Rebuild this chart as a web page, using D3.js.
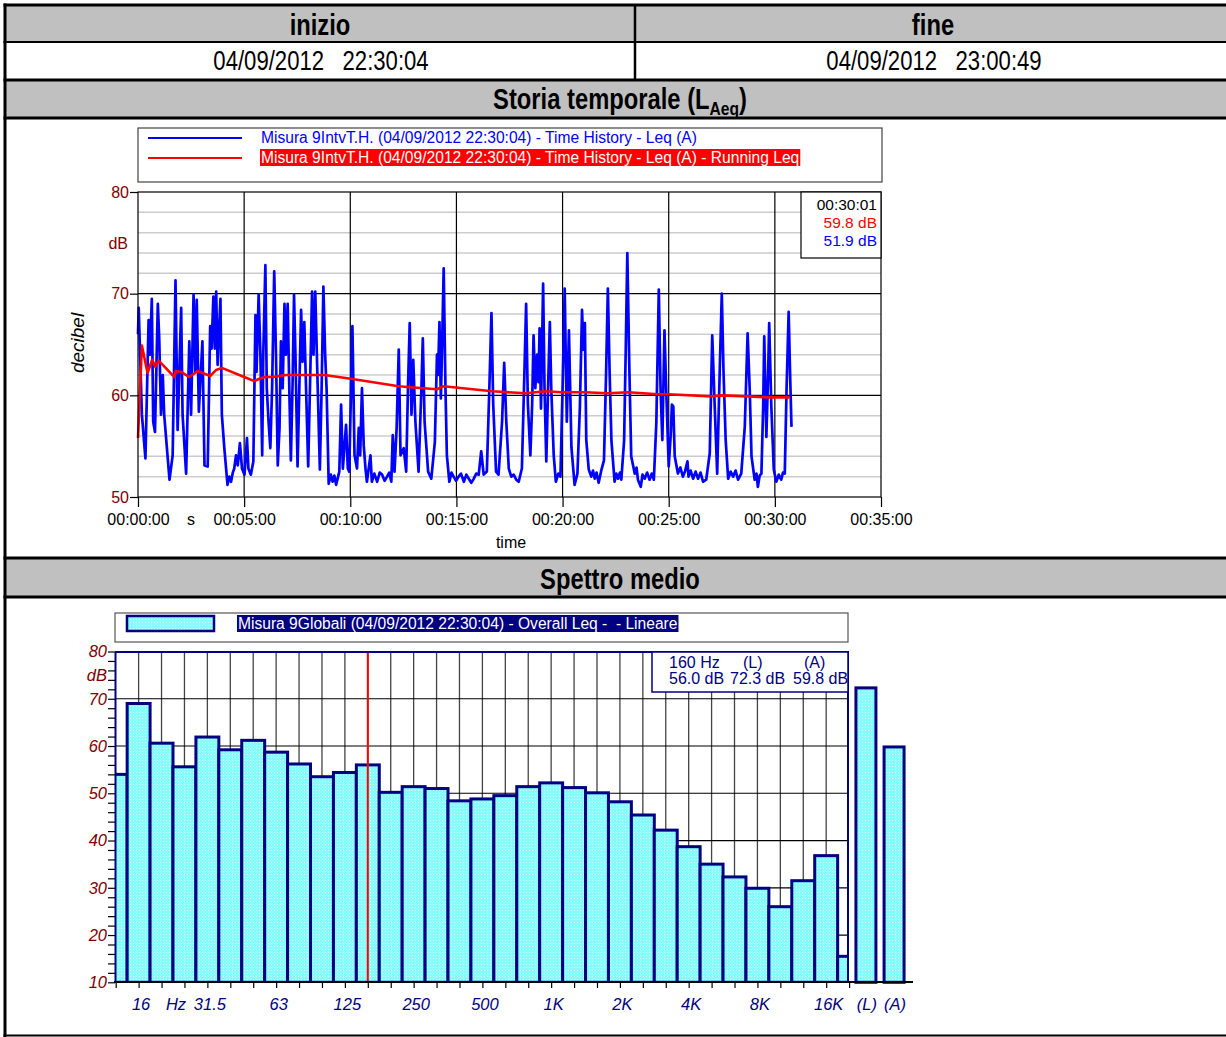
<!DOCTYPE html>
<html>
<head>
<meta charset="utf-8">
<script src="https://cdn.jsdelivr.net/npm/d3@7/dist/d3.min.js"></script>
<style>
html,body{margin:0;padding:0;background:#fff;}
svg{display:block;}
text{font-family:"Liberation Sans",Arial,Helvetica,sans-serif;white-space:pre;}
</style>
</head>
<body>
<svg id="chart" width="1226" height="1037"></svg>
<script>
// ---------------- DATA ----------------
const headerTitles = ["inizio", "fine"];
const headerDates = ["04/09/2012   22:30:04", "04/09/2012   23:00:49"];
const sectionTitle1 = ["Storia temporale (L", "Aeq", ")"];
const sectionTitle2 = "Spettro medio";

const timeTickSeconds = [0, 300, 600, 900, 1200, 1500, 1800, 2100];
const timeTickLabels = ["00:00:00","00:05:00","00:10:00","00:15:00","00:20:00","00:25:00","00:30:00","00:35:00"];
const dbTicks = [50, 60, 70, 80];

const legendTH = [
  "Misura 9IntvT.H. (04/09/2012 22:30:04) - Time History - Leq (A)",
  "Misura 9IntvT.H. (04/09/2012 22:30:04) - Time History - Leq (A) - Running Leq"
];
const cursorTH = ["00:30:01", "59.8 dB", "51.9 dB"];

// [seconds, dB] - Leq(A) time history
const leqHistory = [
[0,66.0],[2,68.6],[11,58.1],[21,53.8],[30,67.4],[34,64.0],[39,69.5],[43,57.4],[48,56.4],[56,69.0],[60,65.6],[65,58.1],[70,62.0],[74,58.1],[89,51.7],[98,54.1],[106,71.3],[112,56.6],[122,68.6],[126,58.1],[136,52.3],[145,65.3],[150,58.1],[157,69.9],[162,62.3],[166,69.4],[172,58.4],[182,65.3],[188,53.1],[197,53.0],[204,66.8],[208,64.6],[213,69.7],[217,64.6],[221,70.2],[225,63.0],[233,69.5],[237,58.1],[244,54.8],[253,51.2],[258,52.0],[263,51.5],[268,52.4],[272,52.8],[277,54.1],[282,53.1],[288,55.3],[294,52.8],[301,52.2],[308,55.8],[312,52.8],[319,52.2],[326,53.5],[332,67.9],[335,62.3],[341,69.9],[346,64.0],[351,54.1],[354,64.0],[360,72.8],[364,60.7],[369,57.4],[374,54.8],[379,60.7],[385,72.2],[390,64.0],[395,53.1],[400,56.8],[404,65.3],[409,60.7],[414,69.0],[418,64.0],[423,69.0],[428,60.0],[432,53.6],[437,61.3],[441,69.9],[445,64.0],[451,53.0],[456,60.7],[461,68.4],[465,63.3],[470,67.2],[475,60.7],[481,53.0],[486,60.7],[492,70.2],[496,64.0],[501,70.2],[508,60.7],[514,52.7],[519,60.7],[524,70.7],[529,64.0],[533,60.7],[539,51.3],[545,52.2],[550,51.5],[555,52.1],[560,51.2],[569,52.5],[574,59.1],[579,52.8],[588,57.1],[593,52.8],[597,52.5],[606,66.8],
[612,54.1],[619,52.8],[624,56.8],[628,54.1],[633,60.7],[638,55.1],[643,52.8],[647,51.5],[657,54.1],[661,51.5],[668,52.3],[676,51.5],[683,52.4],[690,52.2],[697,51.6],[704,52.0],[710,52.4],[716,51.5],[720,56.1],[725,52.5],[731,56.8],[737,64.5],[742,54.1],[751,54.8],[758,52.5],[763,60.7],[768,67.1],[773,58.1],[778,63.5],[784,57.4],[793,52.5],[801,60.7],[805,65.6],[810,57.4],[820,52.5],[829,51.8],[839,55.4],[845,64.0],[848,62.0],[852,67.2],[856,59.7],[859,64.0],[864,72.5],[869,60.7],[873,54.1],[880,51.5],[886,52.4],[892,52.0],[899,51.6],[906,52.0],[913,52.3],[921,51.5],[928,52.2],[935,51.8],[942,51.4],[949,51.8],[956,52.3],[963,52.2],[970,54.5],[977,52.2],[986,52.5],[993,60.7],[999,68.1],[1004,59.1],[1012,52.5],[1019,52.2],[1029,57.4],[1035,63.2],[1041,57.4],[1048,52.8],[1055,52.0],[1062,52.2],[1069,51.7],[1076,51.5],[1085,52.8],[1091,60.7],[1097,69.0],[1102,59.1],[1109,54.1],[1114,59.1],[1118,65.9],[1123,60.7],[1128,64.0],[1132,61.3],[1135,66.6],[1139,58.7],[1145,71.0],[1149,60.7],[1154,53.5],[1159,60.7],[1164,67.2],[1168,60.7],[1175,54.1],[1181,51.5],[1188,52.3],[1194,52.0],[1200,60.7],[1206,70.5],[1212,57.4],[1218,66.4],
[1225,54.9],[1234,51.2],[1242,52.3],[1249,58.9],[1255,68.4],[1259,64.5],[1263,67.1],[1267,55.6],[1274,52.7],[1281,52.0],[1286,52.6],[1291,51.8],[1296,52.4],[1302,51.4],[1310,52.7],[1317,53.6],[1323,62.2],[1328,70.5],[1333,62.2],[1338,55.6],[1347,51.5],[1352,52.3],[1357,51.8],[1362,52.4],[1366,51.7],[1374,55.6],[1379,65.4],[1383,74.0],[1389,62.2],[1394,54.0],[1404,52.3],[1409,52.9],[1413,51.7],[1421,51.0],[1426,52.2],[1432,51.8],[1439,52.4],[1446,51.7],[1452,52.3],[1458,51.7],[1465,57.3],[1472,70.4],[1477,60.5],[1482,55.6],[1488,66.4],[1493,60.5],[1500,53.0],[1506,56.3],[1509,59.1],[1513,58.9],[1517,54.0],[1526,52.3],[1533,52.9],[1540,52.0],[1546,52.5],[1553,53.5],[1556,52.0],[1562,52.6],[1569,51.8],[1576,52.5],[1583,51.8],[1590,52.4],[1597,51.5],[1606,51.7],[1616,54.3],[1623,65.9],[1630,58.9],[1637,52.3],[1644,62.2],[1650,70.0],[1655,62.2],[1661,55.6],[1668,51.8],[1675,52.5],[1682,52.0],[1689,52.6],[1696,51.7],[1705,52.3],[1715,56.9],[1723,66.1],[1729,60.5],[1734,54.0],[1743,51.7],[1748,52.3],[1752,51.0],[1757,52.1],[1762,52.3],[1767,58.9],[1770,65.8],[1776,55.9],[1781,62.2],[1784,67.1],[1790,58.9],[1797,52.7],[1804,51.5],[1811,52.2],[1818,51.7],[1823,52.4],[1828,52.3],[1833,60.5],[1839,68.2],[1843,62.2],[1847,56.9]
];

// [seconds, dB] - running Leq
const runningLeq = [
[0,55.8],[11,64.9],[27,62.2],[40,63.5],[49,62.8],[58,63.4],[70,63.0],[103,61.8],[107,62.4],[122,62.3],[145,61.8],[169,62.4],[204,61.9],[221,62.5],[237,62.7],[300,61.8],[329,61.4],[348,61.7],[362,61.8],[381,61.8],[418,62.0],[484,62.0],[527,62.0],[606,61.6],[737,60.9],[770,60.8],[845,60.6],[864,60.9],[1001,60.4],[1095,60.2],[1151,60.4],[1198,60.3],[1263,60.3],[1328,60.2],[1385,60.3],[1470,60.1],[1498,60.1],[1621,59.9],[1649,60.0],[1724,59.9],[1781,59.8],[1842,59.8]
];

// Spectrum (1/3 octave, linear)
const bandLabels = ["12.5","16","20","25","31.5","40","50","63","80","100","125","160","200","250","315","400","500","630","800","1K","1.25K","1.6K","2K","2.5K","3.15K","4K","5K","6.3K","8K","10K","12.5K","16K","20K"];
const bandLevels = [54.0,69.0,60.6,55.6,61.9,59.2,61.2,58.7,56.2,53.5,54.4,56.0,50.2,51.4,51.0,48.4,48.8,49.5,51.4,52.2,51.2,50.1,48.2,45.4,42.2,38.7,35.0,32.3,29.9,26.0,31.5,36.8,15.5];
const bandTickLabels = ["16","31.5","63","125","250","500","1K","2K","4K","8K","16K"];
const overallLabels = ["(L)", "(A)"];
const overallLevels = [72.3, 59.8];
const spectrumLegend = "Misura 9Globali (04/09/2012 22:30:04) - Overall Leq -  - Lineare";
const cursorBand = "160";
const cursorSpecHead = ["160 Hz", "(L)", "(A)"];
const cursorSpecVals = ["56.0 dB", "72.3 dB", "59.8 dB"];

// ---------------- DRAW ----------------
const svg = d3.select("#chart");
const FONT = '"Liberation Sans", Arial, Helvetica, sans-serif';
const NARROW = 0.82;
const NAVY = "#000080", DKRED = "#800000";

function txt(p, x, y, s, o = {}) {
  const sx = o.sx || 1;
  let tr = `translate(${x},${y})`;
  if (o.rotate) tr += ` rotate(${o.rotate})`;
  if (sx !== 1) tr += o.rotate ? ` scale(1,${sx})` : ` scale(${sx},1)`;
  return p.append("text").attr("transform", tr)
    .attr("font-size", o.size || 16)
    .attr("font-weight", o.weight || "normal")
    .attr("font-style", o.italic ? "italic" : "normal")
    .attr("text-anchor", o.anchor || "start")
    .attr("fill", o.fill || "#000")
    .text(s);
}

// defs
const defs = svg.append("defs");
const pat = defs.append("pattern").attr("id", "dots").attr("width", 3).attr("height", 3).attr("patternUnits", "userSpaceOnUse");
pat.append("rect").attr("width", 3).attr("height", 3).attr("fill", "#86fcfc");
pat.append("rect").attr("x", 1).attr("y", 1).attr("width", 1).attr("height", 1).attr("fill", "#d6ffff");
defs.append("clipPath").attr("id", "specClip").append("rect").attr("x", 115).attr("y", 600).attr("width", 733).attr("height", 383);

// ---- header table ----
const W = 1240;
[[5, 42], [80, 118], [558, 597]].forEach(([a, b]) =>
  svg.append("rect").attr("x", 5).attr("y", a).attr("width", W).attr("height", b - a).attr("fill", "#c0c0c0"));

txt(svg, 320, 35, headerTitles[0], {size: 29, weight: "bold", anchor: "middle", sx: NARROW});
txt(svg, 933, 35, headerTitles[1], {size: 29, weight: "bold", anchor: "middle", sx: NARROW});
txt(svg, 321, 70, headerDates[0], {size: 27, anchor: "middle", sx: NARROW});
txt(svg, 934, 70, headerDates[1], {size: 27, anchor: "middle", sx: NARROW});
const st = txt(svg, 620, 109, "", {size: 29, weight: "bold", anchor: "middle", sx: NARROW});
st.append("tspan").text(sectionTitle1[0]);
st.append("tspan").attr("font-size", 19).attr("dy", 6).text(sectionTitle1[1]);
st.append("tspan").attr("dy", -6).text(sectionTitle1[2]);
txt(svg, 620, 589, sectionTitle2, {size: 29, weight: "bold", anchor: "middle", sx: NARROW});

[[5, 3], [42, 2], [80, 3], [118, 3], [558, 3], [597, 3], [1035.5, 2]].forEach(([y, w]) =>
  svg.append("line").attr("x1", 3.5).attr("x2", W).attr("y1", y).attr("y2", y).attr("stroke", "#000").attr("stroke-width", w));
svg.append("line").attr("x1", 5).attr("x2", 5).attr("y1", 3.5).attr("y2", 1037).attr("stroke", "#000").attr("stroke-width", 3);
svg.append("line").attr("x1", 635).attr("x2", 635).attr("y1", 5).attr("y2", 80).attr("stroke", "#000").attr("stroke-width", 2.5);

// ---- time history ----
const xT = d3.scaleLinear().domain([0, 2100]).range([138, 881]);
const yT = d3.scaleLinear().domain([50, 80]).range([497, 192]);
const gT = svg.append("g");

gT.selectAll(".minor").data(d3.range(52, 80, 2).filter(d => d % 10 !== 0)).join("line")
  .attr("x1", 138).attr("x2", 881).attr("y1", d => yT(d)).attr("y2", d => yT(d))
  .attr("stroke", "#cccccc").attr("stroke-width", 1.5);
gT.selectAll(".majorH").data([60, 70]).join("line")
  .attr("x1", 138).attr("x2", 881).attr("y1", d => yT(d)).attr("y2", d => yT(d))
  .attr("stroke", "#000").attr("stroke-width", 1.2);
gT.selectAll(".majorV").data(timeTickSeconds.slice(1, -1)).join("line")
  .attr("x1", d => xT(d)).attr("x2", d => xT(d)).attr("y1", 192).attr("y2", 497)
  .attr("stroke", "#000").attr("stroke-width", 1.2);

const lineT = d3.line().x(d => xT(d[0])).y(d => yT(d[1]));
gT.append("path").datum(leqHistory).attr("d", lineT).attr("fill", "none")
  .attr("stroke", "#0000ff").attr("stroke-width", 2.7).attr("stroke-linejoin", "round");
gT.append("path").datum(runningLeq).attr("d", lineT).attr("fill", "none")
  .attr("stroke", "#ff0000").attr("stroke-width", 2.6).attr("stroke-linejoin", "round");

gT.append("rect").attr("x", 138).attr("y", 192).attr("width", 743).attr("height", 305)
  .attr("fill", "none").attr("stroke", "#000").attr("stroke-width", 1.2);

const axT = gT.append("g").attr("transform", "translate(0,497)")
  .call(d3.axisBottom(xT).tickValues(timeTickSeconds).tickSize(10).tickSizeOuter(0)
    .tickFormat((d, i) => timeTickLabels[i]));
axT.select(".domain").remove();
axT.attr("font-size", 16).attr("font-family", FONT);
axT.selectAll("line").attr("stroke", "#000").attr("stroke-width", 1.2);
axT.selectAll("text").attr("fill", "#000").attr("y", 17).attr("dy", "0.71em");

const ayT = gT.append("g").attr("transform", "translate(138,0)")
  .call(d3.axisLeft(yT).tickValues(dbTicks).tickSize(8).tickSizeOuter(0));
ayT.select(".domain").remove();
ayT.attr("font-size", 16).attr("font-family", FONT);
ayT.selectAll("line").attr("stroke", "#000").attr("stroke-width", 1.2);
ayT.selectAll("text").attr("fill", DKRED).attr("x", -9);

txt(gT, 128, yT(75) + 6, "dB", {size: 16, anchor: "end", fill: DKRED});
txt(gT, 84, 343, "decibel", {size: 19, italic: true, anchor: "middle", rotate: -90});
txt(gT, 191, 525, "s", {size: 16, anchor: "middle"});
txt(gT, 511, 548, "time", {size: 16, anchor: "middle"});

// legend
gT.append("rect").attr("x", 138).attr("y", 128).attr("width", 744).attr("height", 54)
  .attr("fill", "#fff").attr("stroke", "#444").attr("stroke-width", 1.2);
gT.append("line").attr("x1", 148).attr("x2", 242).attr("y1", 138).attr("y2", 138).attr("stroke", "#0000ff").attr("stroke-width", 2);
gT.append("line").attr("x1", 148).attr("x2", 242).attr("y1", 158).attr("y2", 158).attr("stroke", "#ff0000").attr("stroke-width", 2);
txt(gT, 261, 143, legendTH[0], {size: 15.6, fill: "#0000ff"});
const bgR = gT.append("rect").attr("fill", "#ff0000");
const lt2 = txt(gT, 261, 163, legendTH[1], {size: 15.6, fill: "#fff"});
bgR.attr("x", 260).attr("y", 149).attr("height", 17).attr("width", lt2.node().getComputedTextLength() + 2);

// cursor info box
gT.append("rect").attr("x", 801).attr("y", 192).attr("width", 80).attr("height", 66)
  .attr("fill", "#fff").attr("stroke", "#000").attr("stroke-width", 1.2);
[["#000", 210], ["#ff0000", 228], ["#0000ff", 246]].forEach(([c, y], i) =>
  txt(gT, 877, y, cursorTH[i], {size: 15.5, anchor: "end", fill: c}));

// ---- spectrum ----
const xS = d3.scalePoint().domain(bandLabels).range([115.7, 849.1]);
const step = xS.step();
const yS = d3.scaleLinear().domain([10, 80]).range([982.3, 651.5]);
const xO = d3.scaleBand().domain(overallLabels).range([852, 908]).paddingInner(0.29).paddingOuter(0.14);
const gS = svg.append("g");

// legend
gS.append("rect").attr("x", 115).attr("y", 613).attr("width", 733).attr("height", 29)
  .attr("fill", "#fff").attr("stroke", "#555").attr("stroke-width", 1.2);
gS.append("rect").attr("x", 127).attr("y", 616).attr("width", 87).attr("height", 15)
  .attr("fill", "url(#dots)").attr("stroke", NAVY).attr("stroke-width", 2.5);
const bgN = gS.append("rect").attr("fill", NAVY);
const slt = txt(gS, 238, 629, spectrumLegend, {size: 15.6, fill: "#fff"});
bgN.attr("x", 237).attr("y", 615).attr("height", 17).attr("width", slt.node().getComputedTextLength() + 2);

// grid
gS.selectAll(".vg").data(bandLabels.slice(1, -1)).join("line")
  .attr("x1", d => xS(d)).attr("x2", d => xS(d)).attr("y1", 652).attr("y2", 982)
  .attr("stroke", "#444").attr("stroke-width", 1.3);
gS.selectAll(".hg").data(d3.range(20, 80, 10)).join("line")
  .attr("x1", 115).attr("x2", 848).attr("y1", d => yS(d)).attr("y2", d => yS(d))
  .attr("stroke", "#000").attr("stroke-width", 1.2);

// bars
gS.append("g").attr("clip-path", "url(#specClip)").selectAll("rect").data(bandLabels).join("rect")
  .attr("x", d => xS(d) - step / 2).attr("width", step)
  .attr("y", (d, i) => yS(bandLevels[i])).attr("height", (d, i) => yS(10) - yS(bandLevels[i]))
  .attr("fill", "url(#dots)").attr("stroke", NAVY).attr("stroke-width", 3);
gS.selectAll(".ov").data(overallLabels).join("rect")
  .attr("x", d => xO(d)).attr("width", xO.bandwidth())
  .attr("y", (d, i) => yS(overallLevels[i])).attr("height", (d, i) => yS(10) - yS(overallLevels[i]))
  .attr("fill", "url(#dots)").attr("stroke", NAVY).attr("stroke-width", 3);

// cursor line
gS.append("line").attr("x1", xS(cursorBand)).attr("x2", xS(cursorBand)).attr("y1", 652).attr("y2", 982)
  .attr("stroke", "#ff0000").attr("stroke-width", 2);

// frame
gS.append("line").attr("x1", 115).attr("x2", 849).attr("y1", 652).attr("y2", 652).attr("stroke", NAVY).attr("stroke-width", 2);
gS.append("line").attr("x1", 848).attr("x2", 848).attr("y1", 652).attr("y2", 982).attr("stroke", NAVY).attr("stroke-width", 2);

// cursor info
gS.append("rect").attr("x", 652).attr("y", 652).attr("width", 196).attr("height", 40)
  .attr("fill", "#fff").attr("stroke", NAVY).attr("stroke-width", 1.5);
[669, 743, 804].forEach((x, i) => txt(gS, x, 668, cursorSpecHead[i], {size: 16, fill: NAVY}));
[669, 730, 793].forEach((x, i) => txt(gS, x, 684, cursorSpecVals[i], {size: 16, fill: NAVY}));

// axes
const axS = gS.append("g").attr("transform", "translate(0,982)")
  .call(d3.axisBottom(xS).tickSize(6).tickSizeOuter(0).tickFormat(d => bandTickLabels.includes(d) ? d : ""));
axS.select(".domain").remove();
axS.attr("font-size", 16.5).attr("font-family", FONT);
axS.selectAll("line").attr("stroke", "#000").attr("stroke-width", 1.2);
axS.selectAll("text").attr("fill", NAVY).attr("font-style", "italic").attr("y", 16).attr("dy", "0.71em").attr("dx", 2);
gS.append("line").attr("x1", 114).attr("x2", 913).attr("y1", 982).attr("y2", 982).attr("stroke", "#000").attr("stroke-width", 2);
txt(gS, (xS("20") + xS("25")) / 2 + 3, 1010, "Hz", {size: 16.5, italic: true, anchor: "middle", fill: NAVY});
overallLabels.forEach(l => txt(gS, xO(l) + xO.bandwidth() / 2 + 1, 1010, l, {size: 16.5, italic: true, anchor: "middle", fill: NAVY}));

const ayS = gS.append("g").attr("transform", "translate(115,0)")
  .call(d3.axisLeft(yS).tickValues(d3.range(10, 81, 2)).tickSize(7).tickSizeOuter(0)
    .tickFormat(d => d % 10 === 0 ? d : ""));
ayS.select(".domain").attr("stroke", NAVY).attr("stroke-width", 2);
ayS.attr("font-size", 16.5).attr("font-family", FONT);
ayS.selectAll("line").attr("stroke", "#000").attr("stroke-width", 1.2);
ayS.selectAll("text").attr("fill", DKRED).attr("font-style", "italic").attr("x", -8);
txt(gS, 107, yS(75) + 6, "dB", {size: 16.5, italic: true, anchor: "end", fill: DKRED});
</script>
</body>
</html>
